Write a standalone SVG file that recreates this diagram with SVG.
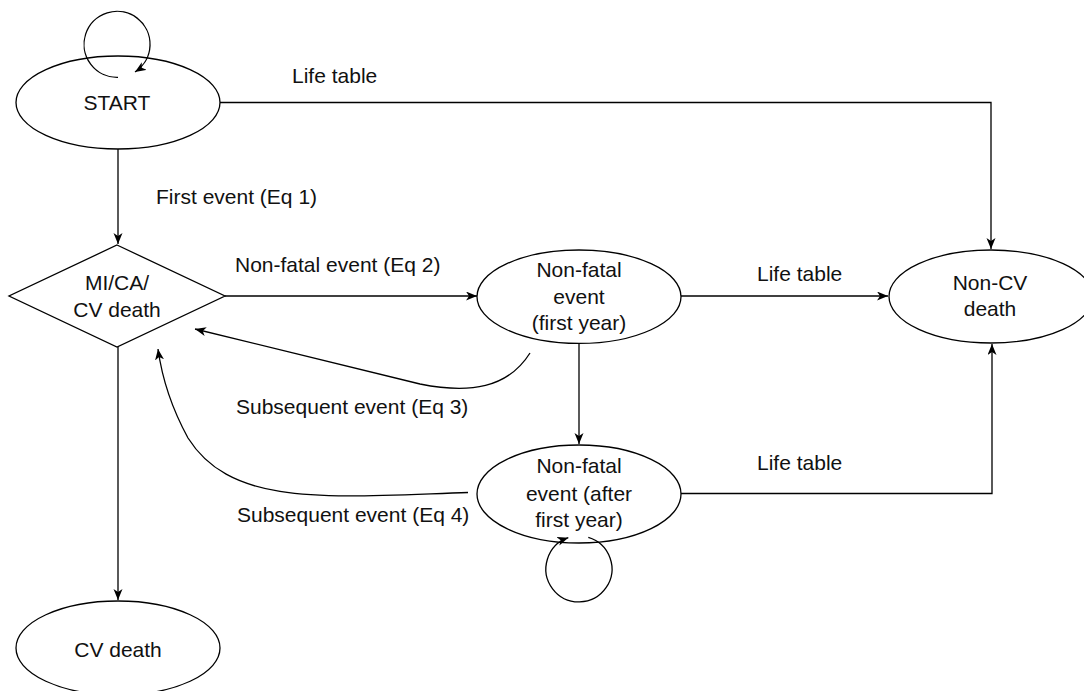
<svg xmlns="http://www.w3.org/2000/svg" width="1084" height="691" viewBox="0 0 1084 691">
<defs>
<marker id="arr" markerWidth="12" markerHeight="10" refX="11" refY="4.5" orient="auto" markerUnits="userSpaceOnUse">
<path d="M0,0 L11,4.5 L0,9 L3,4.5 Z" fill="#000"/>
</marker>
</defs>
<style>
.shape{fill:#fff;stroke:#000;stroke-width:1.3}
.edge{fill:none;stroke:#000;stroke-width:1.3;marker-end:url(#arr)}
text{font-family:"Liberation Sans",Arial,Helvetica,sans-serif;font-size:21px;fill:#111}
.c{text-anchor:middle}
</style>
<rect width="1084" height="691" fill="#fff"/>
<g id="start">
<ellipse class="shape" cx="118" cy="102.5" rx="102" ry="46.5"/>
<text class="c" x="117" y="110">START</text>
</g>
<g id="mi-ca-cv-death">
<polygon class="shape" points="117,245 225,296 117,347 9,296"/>
<text class="c" x="117" y="290">MI/CA/</text>
<text class="c" x="117" y="317">CV death</text>
</g>
<g id="non-fatal-first-year">
<ellipse class="shape" cx="579" cy="296.7" rx="102" ry="46.7"/>
<text class="c" x="579" y="277">Non-fatal</text>
<text class="c" x="579" y="304">event</text>
<text class="c" x="579" y="330">(first year)</text>
</g>
<g id="non-cv-death">
<ellipse class="shape" cx="991" cy="296.5" rx="102" ry="46.5"/>
<text class="c" x="990" y="290">Non-CV</text>
<text class="c" x="990" y="316">death</text>
</g>
<g id="non-fatal-after-first-year">
<ellipse class="shape" cx="579" cy="494" rx="102" ry="49"/>
<text class="c" x="579" y="473">Non-fatal</text>
<text class="c" x="579" y="501">event (after</text>
<text class="c" x="579" y="527">first year)</text>
</g>
<g id="cv-death">
<ellipse class="shape" cx="118" cy="648" rx="102" ry="47"/>
<text class="c" x="118" y="657">CV death</text>
</g>
<g id="connectors">
<path class="edge" d="M118,77.3 A33,33 0 1 1 135,72"/>
<path class="edge" d="M220,102.5 L991,102.5 L991,249"/>
<path class="edge" d="M118,149 L118,244"/>
<path class="edge" d="M225,296 L477,296"/>
<path class="edge" d="M681,296 L888,296"/>
<path class="edge" d="M579,343.5 L579,444"/>
<path class="edge" d="M681,493.5 L992,493.5 L992,344"/>
<path class="edge" d="M118,347 L118,600"/>
<path class="edge" d="M530,353 C508,388 470,394 420,384 L195,329"/>
<path class="edge" d="M468,492.5 C330,497 232,508 188,438 C170,405 162,378 158,349"/>
<path class="edge" d="M588.3,537.3 A33,33 0 1 1 568.3,537.7"/>
</g>
<g id="labels">
<text x="292" y="83">Life table</text>
<text x="156" y="204">First event (Eq 1)</text>
<text x="235" y="272">Non-fatal event (Eq 2)</text>
<text x="757" y="281">Life table</text>
<text x="236" y="414">Subsequent event (Eq 3)</text>
<text x="757" y="470">Life table</text>
<text x="237" y="522">Subsequent event (Eq 4)</text>
</g>
</svg>
